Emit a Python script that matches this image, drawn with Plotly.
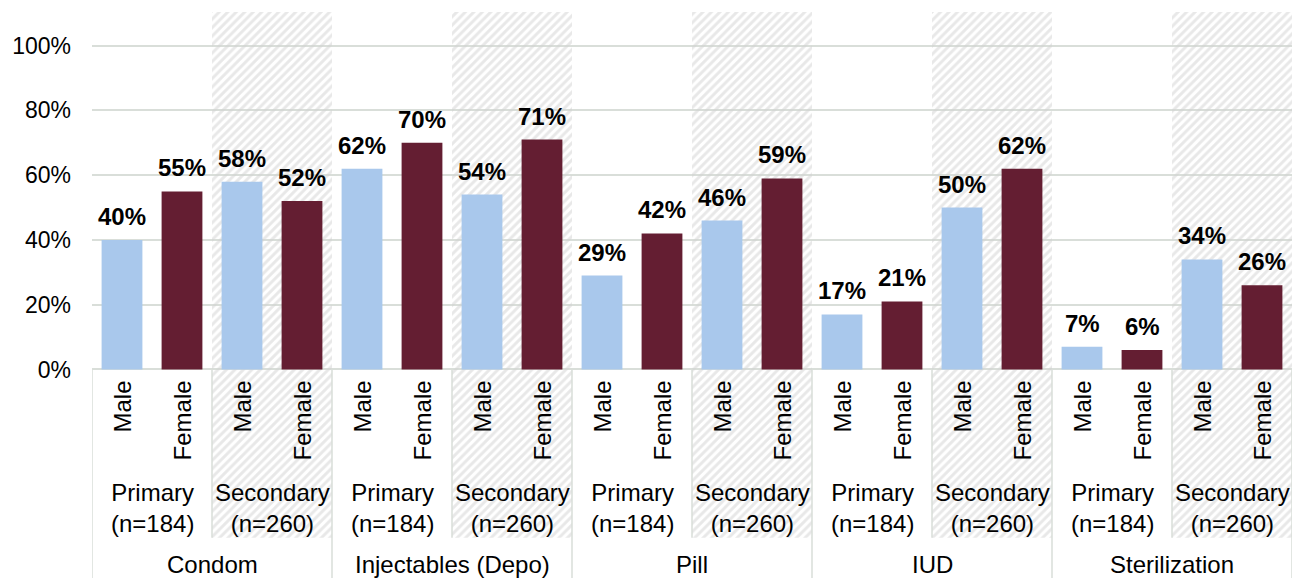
import plotly.graph_objects as go

methods = ["Condom", "Injectables (Depo)", "Pill", "IUD", "Sterilization"]
levels = ["Primary<br>(n=184)", "Secondary<br>(n=260)"]
genders = ["Male", "Female"]

# percent using each method, [primary, secondary] per method
male_pct = [[40, 58], [62, 54], [29, 46], [17, 50], [7, 34]]
female_pct = [[55, 52], [70, 71], [42, 59], [21, 62], [6, 26]]

MALE_COLOR = "#a9c8ec"
FEMALE_COLOR = "#641e32"
LINE_COLOR = "#d9ded9"
FONT = "Liberation Sans, Arial, sans-serif"

Y_TOP = 1.104
Y_BOTTOM = -0.644
HATCH_BOTTOM = -0.52

male_x, male_y, female_x, female_y = [], [], [], []
for m in range(len(methods)):
    for lv in range(len(levels)):
        base = m * 4 + lv * 2
        male_x.append(base)
        male_y.append(male_pct[m][lv] / 100)
        female_x.append(base + 1)
        female_y.append(female_pct[m][lv] / 100)

fig = go.Figure()

# hatched background behind the secondary groups
sec_x = [m * 4 + 2.5 for m in range(len(methods))]
fig.add_trace(go.Bar(
    x=sec_x,
    y=[Y_TOP - HATCH_BOTTOM] * len(sec_x),
    base=HATCH_BOTTOM,
    width=2,
    marker=dict(
        color="rgba(255,255,255,0)",
        line=dict(width=0),
        pattern=dict(shape="/", fgcolor="#d2d2d2", bgcolor="rgba(255,255,255,0)",
                     size=6, solidity=0.5),
    ),
    hoverinfo="skip",
))

annotations = []
for xs, ys, color in [(male_x, male_y, MALE_COLOR), (female_x, female_y, FEMALE_COLOR)]:
    fig.add_trace(go.Bar(
        x=xs,
        y=ys,
        width=0.68,
        marker=dict(color=color, line=dict(width=0)),
    ))
    # value labels above each bar
    for x, y in zip(xs, ys):
        annotations.append(dict(
            x=x, y=y, xref="x", yref="y", text=f"<b>{round(y * 100)}%</b>",
            showarrow=False, xanchor="center", yanchor="bottom", yshift=8,
            font=dict(family=FONT, size=24, color="black"),
        ))

# gender labels, rotated
for i in range(len(methods) * 4):
    annotations.append(dict(
        x=i, y=0, xref="x", yref="y", text=genders[i % 2], textangle=-90,
        showarrow=False, xanchor="center", yanchor="top", yshift=-9,
        font=dict(family=FONT, size=24, color="black"),
    ))
# level and method labels
for m in range(len(methods)):
    for lv in range(len(levels)):
        annotations.append(dict(
            x=m * 4 + lv * 2 + 0.5, y=-0.428, xref="x", yref="y", text=levels[lv],
            showarrow=False, xanchor="center", yanchor="middle",
            font=dict(family=FONT, size=24, color="black"),
        ))
    annotations.append(dict(
        x=m * 4 + 1.5, y=-0.601, xref="x", yref="y", text=methods[m],
        showarrow=False, xanchor="center", yanchor="middle",
        font=dict(family=FONT, size=24, color="black"),
    ))

shapes = []
for m in range(len(methods) + 1):
    shapes.append(dict(type="line", xref="x", yref="y", x0=m * 4 - 0.5, x1=m * 4 - 0.5,
                       y0=0, y1=Y_BOTTOM, line=dict(color=LINE_COLOR, width=1.5)))
for m in range(len(methods)):
    shapes.append(dict(type="line", xref="x", yref="y", x0=m * 4 + 1.5, x1=m * 4 + 1.5,
                       y0=0, y1=HATCH_BOTTOM, line=dict(color=LINE_COLOR, width=1.5)))

fig.update_layout(
    width=1298,
    height=578,
    margin=dict(t=12, b=0, l=92, r=6),
    barmode="overlay",
    showlegend=False,
    plot_bgcolor="white",
    paper_bgcolor="white",
    font=dict(family=FONT, size=24, color="black"),
    annotations=annotations,
    shapes=shapes,
    xaxis=dict(range=[-0.5, 19.5], showticklabels=False, showgrid=False,
               zeroline=False, showline=False, ticks=""),
    yaxis=dict(range=[Y_BOTTOM, Y_TOP], tickvals=[0, 0.2, 0.4, 0.6, 0.8, 1.0],
               ticktext=["0%", "20%", "40%", "60%", "80%", "100%"],
               showgrid=True, gridcolor=LINE_COLOR, gridwidth=1.5,
               zeroline=False, showline=False, ticks="", ticklabelstandoff=20,
               tickfont=dict(family=FONT, size=23, color="black")),
)

fig.write_html(
    "out.html",
    config={"displayModeBar": False},
    post_script="document.body.style.margin='0px';document.body.style.overflow='hidden';",
)
